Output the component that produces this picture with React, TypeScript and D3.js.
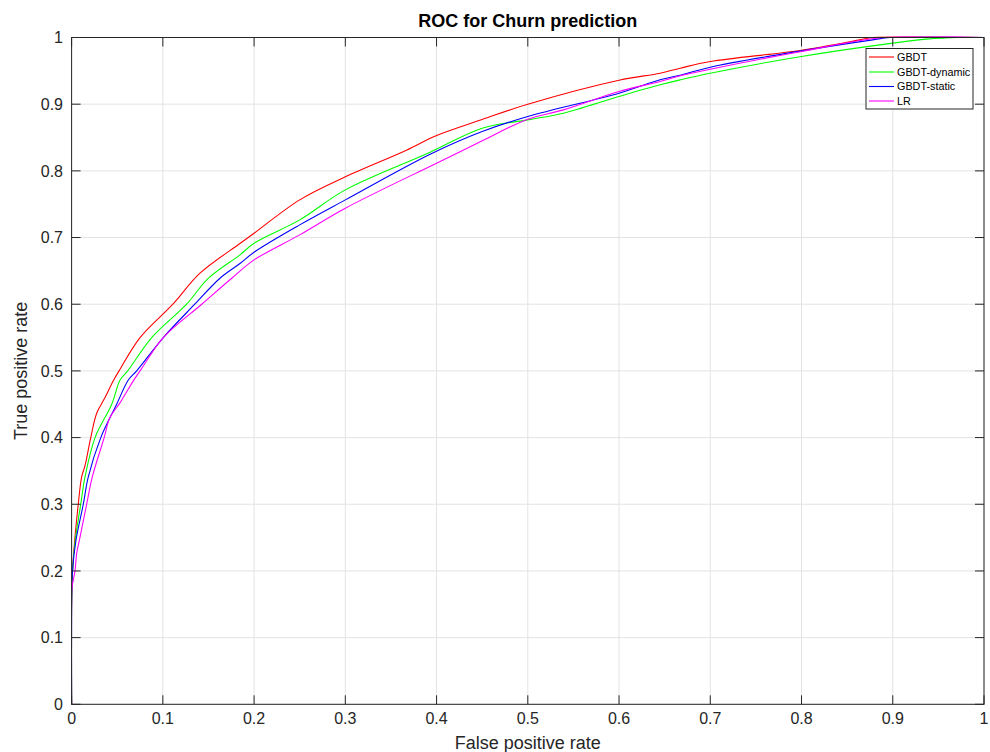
import React from "react";
import * as d3 from "d3";

const xTicks = [0, 0.1, 0.2, 0.3, 0.4, 0.5, 0.6, 0.7, 0.8, 0.9, 1];
const yTicks = [0, 0.1, 0.2, 0.3, 0.4, 0.5, 0.6, 0.7, 0.8, 0.9, 1];

const seriesNames = ["GBDT", "GBDT-dynamic", "GBDT-static", "LR"];
const seriesColors = ["#ff0000", "#00ff00", "#0000ff", "#ff00ff"];

const gbdt: [number, number][] = [
  [0, 0], [0, 0.15], [0.001, 0.2], [0.0034, 0.246], [0.0073, 0.3], [0.011, 0.341],
  [0.0147, 0.358], [0.021, 0.4], [0.0275, 0.4365], [0.0366, 0.46], [0.046, 0.486],
  [0.052, 0.5], [0.075, 0.55], [0.111, 0.6], [0.1407, 0.6465], [0.1845, 0.691],
  [0.2, 0.7065], [0.25, 0.7565], [0.3, 0.791], [0.367, 0.831], [0.4, 0.853],
  [0.45, 0.877], [0.5, 0.9], [0.6, 0.936], [0.645, 0.9465], [0.667, 0.954],
  [0.7, 0.964], [0.8, 0.981], [0.864, 0.9965], [0.878, 1], [1, 1],
];

const gbdtDynamic: [number, number][] = [
  [0, 0], [0, 0.16], [0.001, 0.2], [0.004, 0.246], [0.01, 0.3], [0.0147, 0.341],
  [0.0257, 0.4], [0.044, 0.45], [0.053, 0.486], [0.0615, 0.5], [0.0878, 0.55],
  [0.126, 0.6], [0.15, 0.639], [0.1845, 0.674], [0.2, 0.6915], [0.25, 0.7265],
  [0.3, 0.7715], [0.393, 0.828], [0.45, 0.864], [0.5, 0.8765], [0.539, 0.8865],
  [0.6, 0.9115], [0.645, 0.929], [0.667, 0.9365], [0.7, 0.9465], [0.8, 0.9715],
  [0.9, 0.9915], [0.937, 0.9975], [0.973, 1], [1, 1],
];

const gbdtStatic: [number, number][] = [
  [0, 0], [0, 0.14], [0.001, 0.2], [0.0048, 0.246], [0.0128, 0.3], [0.0183, 0.341],
  [0.032, 0.4], [0.0494, 0.45], [0.062, 0.486], [0.0713, 0.5], [0.1005, 0.55],
  [0.135, 0.6], [0.1626, 0.639], [0.1845, 0.661], [0.2, 0.678], [0.25, 0.719],
  [0.3, 0.7565], [0.393, 0.825], [0.45, 0.859], [0.5, 0.8815], [0.6, 0.9165],
  [0.645, 0.9365], [0.667, 0.9435], [0.7, 0.9555], [0.8, 0.98], [0.878, 0.9965],
  [0.897, 1], [1, 1],
];

const lr: [number, number][] = [
  [0, 0], [0, 0.17], [0.0037, 0.2], [0.0056, 0.2265], [0.0085, 0.246], [0.0165, 0.3],
  [0.0227, 0.341], [0.0357, 0.4], [0.042, 0.43], [0.053, 0.452], [0.0676, 0.485],
  [0.075, 0.5], [0.1005, 0.55], [0.1426, 0.6], [0.1755, 0.639], [0.2, 0.6665],
  [0.25, 0.704], [0.3, 0.744], [0.4, 0.8115], [0.45, 0.845], [0.5, 0.8775],
  [0.539, 0.8915], [0.6, 0.919], [0.645, 0.934], [0.667, 0.9425], [0.7, 0.9525],
  [0.8, 0.979], [0.89, 1], [1, 1],
];

const seriesData = [gbdt, gbdtDynamic, gbdtStatic, lr];

const W = 990;
const H = 752;
const left = 71.6;
const right = 984;
const top = 37.5;
const bottom = 704.3;
const axisColor = "#262626";
const gridColor = "#e3e3e3";
const font = "'Liberation Sans', Arial, Helvetica, sans-serif";
const tickLen = 9;

export default function App() {
  const x = d3.scaleLinear().domain([0, 1]).range([left, right]);
  const y = d3.scaleLinear().domain([0, 1]).range([bottom, top]);
  const line = d3
    .line<[number, number]>()
    .x((d) => x(d[0]))
    .y((d) => y(d[1]))
    .curve(d3.curveCatmullRom.alpha(0.5));
  const fmt = (v: number) => d3.format("~g")(+v.toFixed(1));

  const legX = 866;
  const legY = 48.5;
  const legW = 107;
  const legH = 60.5;
  const rowYs = [57, 72, 86.5, 101];

  return (
    <svg
      width={W}
      height={H}
      style={{ position: "absolute", left: 0, top: 0, background: "#fff" }}
      fontFamily={font}
    >
      <rect x={0} y={0} width={W} height={H} fill="#fff" />
      {xTicks.map((t) => (
        <line key={"gx" + t} x1={x(t)} x2={x(t)} y1={top} y2={bottom} stroke={gridColor} strokeWidth={1} />
      ))}
      {yTicks.map((t) => (
        <line key={"gy" + t} x1={left} x2={right} y1={y(t)} y2={y(t)} stroke={gridColor} strokeWidth={1} />
      ))}
      <defs>
        <clipPath id="plotclip">
          <rect x={left} y={top - 1} width={right - left} height={bottom - top + 1} />
        </clipPath>
      </defs>
      <g clipPath="url(#plotclip)">
        {seriesData.map((d, i) => (
          <path key={"s" + i} d={line(d) || ""} fill="none" stroke={seriesColors[i]} strokeWidth={1.1} />
        ))}
      </g>
      <rect x={left} y={top} width={right - left} height={bottom - top} fill="none" stroke={axisColor} strokeWidth={1} />
      {xTicks.map((t) => (
        <g key={"tx" + t}>
          <line x1={x(t)} x2={x(t)} y1={bottom} y2={bottom - tickLen} stroke={axisColor} />
          <line x1={x(t)} x2={x(t)} y1={top} y2={top + tickLen} stroke={axisColor} />
          <text x={x(t)} y={724} fontSize={16} fill={axisColor} textAnchor="middle">
            {fmt(t)}
          </text>
        </g>
      ))}
      {yTicks.map((t) => (
        <g key={"ty" + t}>
          <line x1={left} x2={left + tickLen} y1={y(t)} y2={y(t)} stroke={axisColor} />
          <line x1={right} x2={right - tickLen} y1={y(t)} y2={y(t)} stroke={axisColor} />
          <text x={63} y={y(t)} dy="0.36em" fontSize={16} fill={axisColor} textAnchor="end">
            {fmt(t)}
          </text>
        </g>
      ))}
      <text x={(left + right) / 2} y={27} fontSize={18} fontWeight="bold" fill="#000" textAnchor="middle">
        ROC for Churn prediction
      </text>
      <text x={(left + right) / 2} y={748.5} fontSize={18} fill={axisColor} textAnchor="middle">
        False positive rate
      </text>
      <text
        transform={`translate(27,${(top + bottom) / 2}) rotate(-90)`}
        fontSize={18}
        fill={axisColor}
        textAnchor="middle"
      >
        True positive rate
      </text>
      <rect x={legX} y={legY} width={legW} height={legH} fill="#fff" stroke={axisColor} strokeWidth={1} />
      {seriesNames.map((n, i) => (
        <g key={"l" + i}>
          <line x1={869} x2={894} y1={rowYs[i]} y2={rowYs[i]} stroke={seriesColors[i]} strokeWidth={1.1} />
          <text x={897} y={rowYs[i]} dy="0.36em" fontSize={10.8} fill="#000">
            {n}
          </text>
        </g>
      ))}
    </svg>
  );
}
